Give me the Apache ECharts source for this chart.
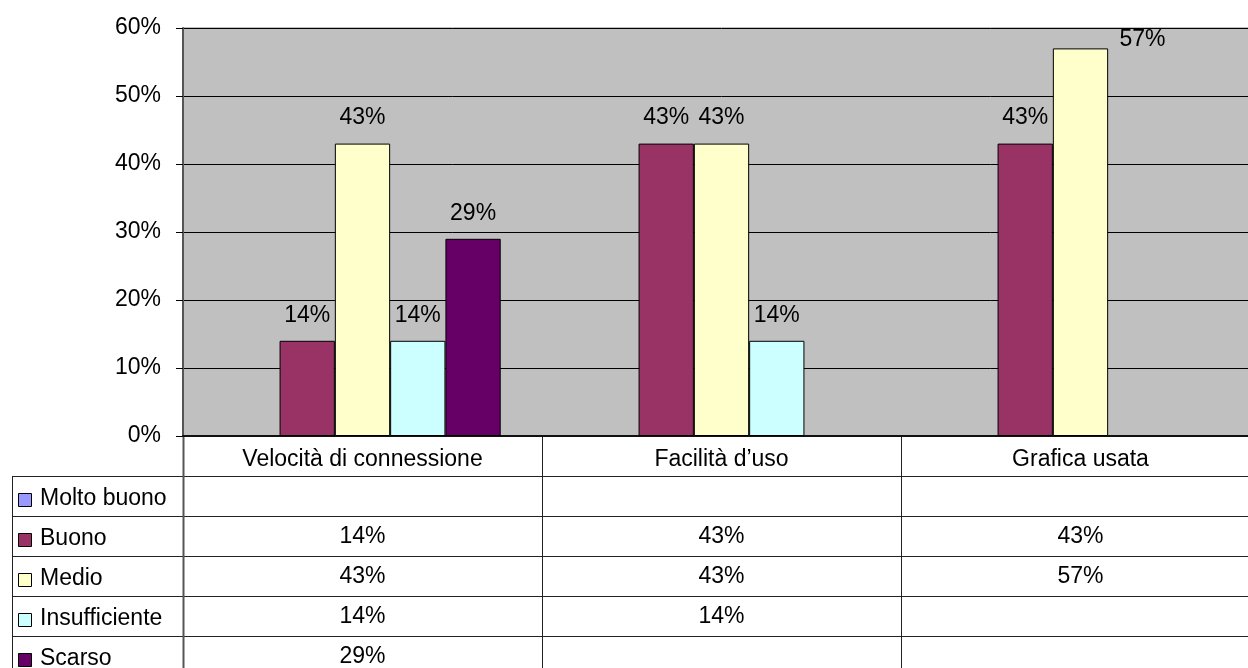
<!DOCTYPE html>
<html>
<head>
<meta charset="utf-8">
<script src="https://cdn.jsdelivr.net/npm/echarts@6/dist/echarts.min.js"></script>
<style>
html,body{margin:0;padding:0;background:#fff;overflow:hidden;width:1248px;height:668px;}
#c{width:1272px;height:668px;}
</style>
</head>
<body>
<div id="c"></div>
<script>
const categories = ['Velocità di connessione', 'Facilità d\u2019uso', 'Grafica usata'];
const seriesNames = ['Molto buono', 'Buono', 'Medio', 'Insufficiente', 'Scarso'];
const moltoBuono = [null, null, null];
const buono = [14, 43, 43];
const medio = [43, 43, 57];
const insufficiente = [14, 14, null];
const scarso = [29, null, null];
const yTicks = [0, 10, 20, 30, 40, 50, 60];

const seriesValues = [moltoBuono, buono, medio, insufficiente, scarso];
const colors = ['#9999ff', '#993366', '#ffffcc', '#ccffff', '#660066'];
const FONT = 'Liberation Sans, Arial, sans-serif';
const FS = 23;

const chart = echarts.init(document.getElementById('c'), null, {renderer: 'canvas'});

const series = seriesNames.map((name, si) => ({
  name: name,
  type: 'bar',
  barGap: '0%',
  barCategoryGap: '23%',
  itemStyle: {color: colors[si], borderColor: '#000', borderWidth: 1},
  label: {
    show: true, position: 'top', distance: 14,
    formatter: p => (p.value == null ? '' : p.value + '%'),
    color: '#000', fontSize: FS, fontFamily: FONT
  },
  emphasis: {disabled: true},
  data: seriesValues[si].map((v, ci) => {
    if (si === 2 && ci === 2) return {value: v, label: {offset: [62, 17]}};
    return v;
  })
}));

chart.setOption({
  animation: false,
  backgroundColor: '#fff',
  grid: {
    left: 183, top: 28, width: 1077, bottom: 232,
    show: true, backgroundColor: '#c0c0c0', borderColor: '#808080', borderWidth: 1
  },
  xAxis: {
    type: 'category', data: categories,
    axisLine: {show: true, lineStyle: {color: '#111', width: 2}},
    axisTick: {show: false},
    axisLabel: {color: '#000', fontSize: FS, fontFamily: FONT, margin: 12, interval: 0},
    splitLine: {show: false}
  },
  yAxis: {
    type: 'value', min: yTicks[0], max: yTicks[yTicks.length - 1], interval: 10,
    axisLine: {show: true, lineStyle: {color: '#555', width: 2}},
    axisTick: {show: true, length: 7, lineStyle: {color: '#000'}},
    axisLabel: {color: '#000', fontSize: FS, fontFamily: FONT, margin: 22, formatter: '{value}%'},
    splitLine: {show: true, lineStyle: {color: '#000', width: 1}}
  },
  series: series
});

// Data table below the plot, positioned from the axes
function buildTable() {
  const centers = categories.map((c, i) => chart.convertToPixel({xAxisIndex: 0}, i));
  const band = centers[1] - centers[0];
  const bounds = [centers[0] - band / 2].concat(centers.map(c => c + band / 2));
  const y0 = chart.convertToPixel({yAxisIndex: 0}, 0);
  const headerH = 40, rowH = 40, tableLeft = 12;
  const rightEnd = bounds[bounds.length - 1];
  const bottom = 668;
  const els = [];
  const lineStyle = {stroke: '#222', lineWidth: 1};
  for (let r = 0; r <= seriesNames.length; r++) {
    const y = Math.round(y0 + headerH + r * rowH) + 0.5;
    if (y > bottom + 1) break;
    els.push({type: 'line', shape: {x1: tableLeft, y1: y, x2: rightEnd, y2: y}, style: lineStyle, silent: true});
  }
  els.push({type: 'line', shape: {x1: tableLeft + 0.5, y1: y0 + headerH, x2: tableLeft + 0.5, y2: bottom}, style: lineStyle, silent: true});
  bounds.forEach((bx, i) => {
    const x = Math.round(bx) + 0.5;
    els.push({type: 'line', shape: {x1: x, y1: y0, x2: x, y2: bottom}, style: {stroke: i === 0 ? '#555' : '#222', lineWidth: i === 0 ? 2 : 1}, silent: true});
  });
  seriesNames.forEach((name, si) => {
    const cy = y0 + headerH + si * rowH + rowH / 2;
    els.push({type: 'rect', shape: {x: 18.5, y: Math.round(cy - 3) + 0.5, width: 13, height: 13},
      style: {fill: colors[si], stroke: '#000', lineWidth: 1}, silent: true});
    els.push({type: 'text', x: 40, y: cy + 3, style: {text: name, fill: '#000', fontSize: FS, fontFamily: FONT,
      align: 'left', verticalAlign: 'middle'}, silent: true});
    seriesValues[si].forEach((v, ci) => {
      if (v == null) return;
      els.push({type: 'text', x: centers[ci], y: cy + 1, style: {text: v + '%', fill: '#000', fontSize: FS, fontFamily: FONT,
        align: 'center', verticalAlign: 'middle'}, silent: true});
    });
  });
  chart.setOption({graphic: {elements: els}});
}
buildTable();
</script>
</body>
</html>
